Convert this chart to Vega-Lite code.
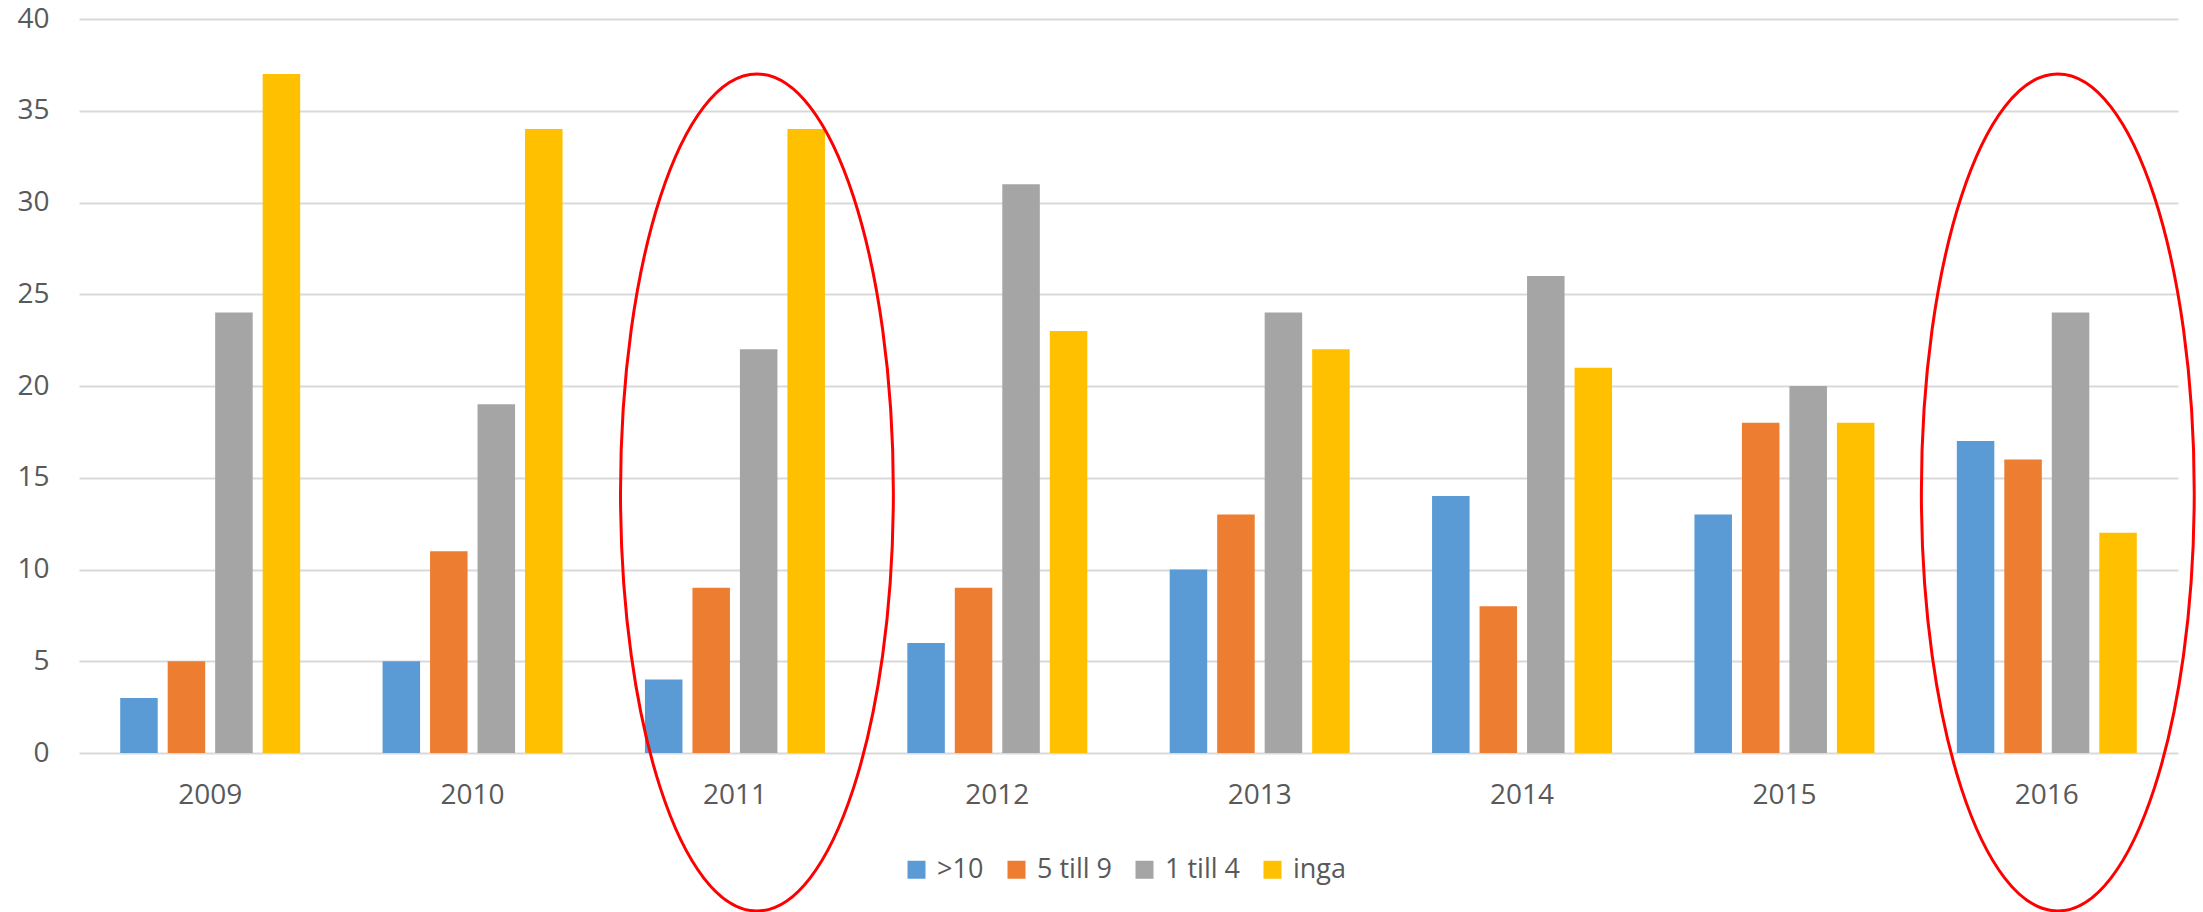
{
  "$schema": "https://vega.github.io/schema/vega-lite/v6.json",
  "autosize": {"type": "none"},
  "padding": {"left": 79, "top": 19, "right": 25, "bottom": 159},
  "width": 2099,
  "height": 734,
  "background": "white",
  "config": {
    "font": "Open Sans",
    "view": {"stroke": null},
    "axis": {"labelFont": "Open Sans", "labelColor": "#595959", "labelFontSize": 28}
  },
  "datasets": {
    "bars": [
      {"year": "2009", "group": ">10", "count": 3},
      {"year": "2009", "group": "5 till 9", "count": 5},
      {"year": "2009", "group": "1 till 4", "count": 24},
      {"year": "2009", "group": "inga", "count": 37},
      {"year": "2010", "group": ">10", "count": 5},
      {"year": "2010", "group": "5 till 9", "count": 11},
      {"year": "2010", "group": "1 till 4", "count": 19},
      {"year": "2010", "group": "inga", "count": 34},
      {"year": "2011", "group": ">10", "count": 4},
      {"year": "2011", "group": "5 till 9", "count": 9},
      {"year": "2011", "group": "1 till 4", "count": 22},
      {"year": "2011", "group": "inga", "count": 34},
      {"year": "2012", "group": ">10", "count": 6},
      {"year": "2012", "group": "5 till 9", "count": 9},
      {"year": "2012", "group": "1 till 4", "count": 31},
      {"year": "2012", "group": "inga", "count": 23},
      {"year": "2013", "group": ">10", "count": 10},
      {"year": "2013", "group": "5 till 9", "count": 13},
      {"year": "2013", "group": "1 till 4", "count": 24},
      {"year": "2013", "group": "inga", "count": 22},
      {"year": "2014", "group": ">10", "count": 14},
      {"year": "2014", "group": "5 till 9", "count": 8},
      {"year": "2014", "group": "1 till 4", "count": 26},
      {"year": "2014", "group": "inga", "count": 21},
      {"year": "2015", "group": ">10", "count": 13},
      {"year": "2015", "group": "5 till 9", "count": 18},
      {"year": "2015", "group": "1 till 4", "count": 20},
      {"year": "2015", "group": "inga", "count": 18},
      {"year": "2016", "group": ">10", "count": 17},
      {"year": "2016", "group": "5 till 9", "count": 16},
      {"year": "2016", "group": "1 till 4", "count": 24},
      {"year": "2016", "group": "inga", "count": 12}
    ]
  },
  "encoding": {
    "x": {
      "field": "year",
      "type": "nominal",
      "scale": {"paddingInner": 0.314, "paddingOuter": 0.157},
      "axis": {"title": null, "labelAngle": 0, "domain": false, "ticks": false, "tickSize": 0, "labelPadding": 28, "grid": false}
    }
  },
  "layer": [
    {
      "data": {"name": "bars"},
      "mark": {"type": "bar"},
      "encoding": {
        "xOffset": {
          "field": "group",
          "type": "nominal",
          "sort": [">10", "5 till 9", "1 till 4", "inga"],
          "scale": {"paddingInner": 0.21, "paddingOuter": 0}
        },
        "y": {
          "field": "count",
          "type": "quantitative",
          "scale": {"domain": [0, 40], "nice": false},
          "axis": {
            "title": null,
            "values": [0, 5, 10, 15, 20, 25, 30, 35, 40],
            "domain": false,
            "ticks": false,
            "tickSize": 0,
            "labelPadding": 30,
            "gridColor": "#d9d9d9",
            "gridWidth": 2
          }
        },
        "color": {
          "field": "group",
          "type": "nominal",
          "sort": [">10", "5 till 9", "1 till 4", "inga"],
          "scale": {"domain": [">10", "5 till 9", "1 till 4", "inga"], "range": ["#5B9BD5", "#ED7D31", "#A5A5A5", "#FFC000"]},
          "legend": {
            "title": null,
            "orient": "none",
            "direction": "horizontal",
            "legendX": 824,
            "legendY": 837,
            "padding": 0,
            "symbolType": "square",
            "symbolSize": 324,
            "symbolStrokeWidth": 0,
            "labelFont": "Open Sans",
            "labelFontSize": 27,
            "labelColor": "#595959",
            "labelOffset": 7,
            "columnPadding": 19
          }
        }
      }
    },
    {
      "data": {"values": [{"year": "2011"}]},
      "mark": {
        "type": "point",
        "shape": "M -0.326 0 A 0.326 1 0 1 0 0.326 0 A 0.326 1 0 1 0 -0.326 0 Z",
        "size": 700569,
        "filled": false,
        "fill": null,
        "stroke": "#FF0000",
        "strokeWidth": 3,
        "opacity": 1,
        "xOffset": 22
      },
      "encoding": {
        "y": {"datum": 14.2, "type": "quantitative"}
      }
    },
    {
      "data": {"values": [{"year": "2016"}]},
      "mark": {
        "type": "point",
        "shape": "M -0.326 0 A 0.326 1 0 1 0 0.326 0 A 0.326 1 0 1 0 -0.326 0 Z",
        "size": 700569,
        "filled": false,
        "fill": null,
        "stroke": "#FF0000",
        "strokeWidth": 3,
        "opacity": 1,
        "xOffset": 11
      },
      "encoding": {
        "y": {"datum": 14.2, "type": "quantitative"}
      }
    }
  ]
}
